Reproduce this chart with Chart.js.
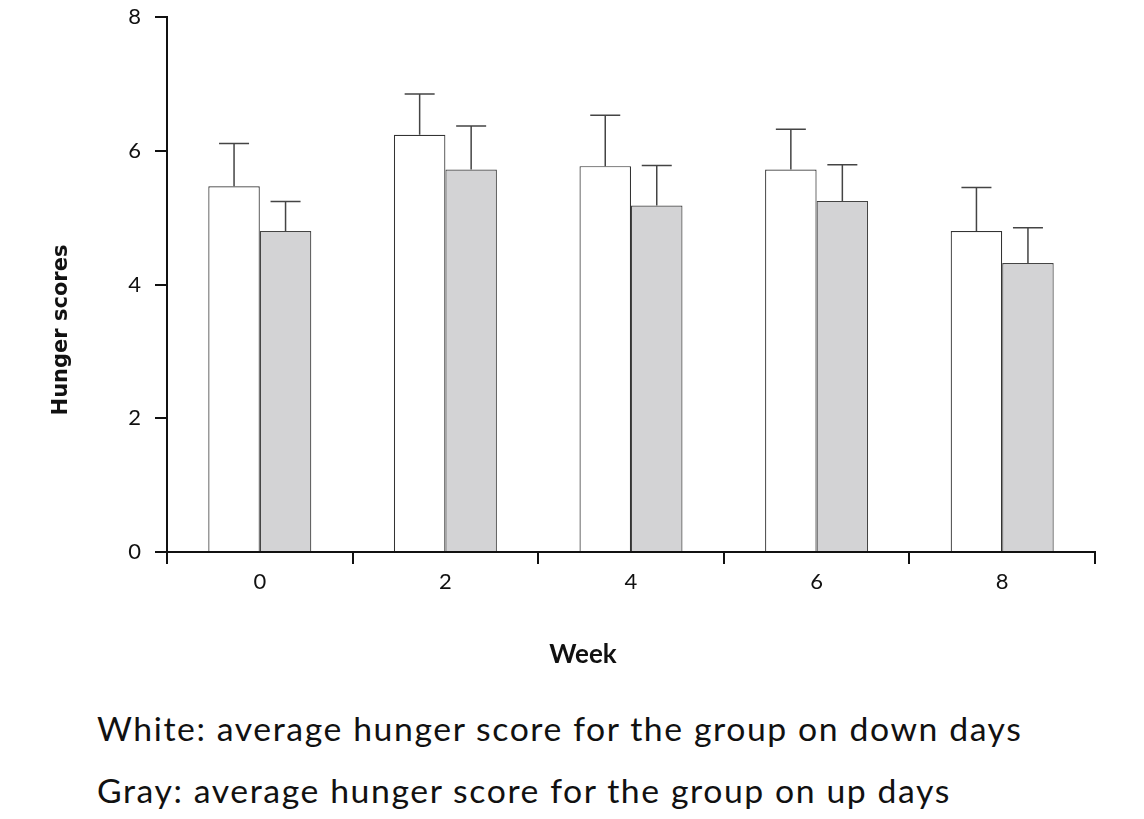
<!DOCTYPE html>
<html>
<head>
<meta charset="utf-8">
<script src="https://cdn.jsdelivr.net/npm/chart.js@4/dist/chart.umd.min.js"></script>
<style>
  body { margin: 0; background: #fff; width: 1144px; height: 819px; position: relative; overflow: hidden; }
  #wrap { position: absolute; left: 0; top: 0; width: 1144px; height: 690px; }
  .caption { position: absolute; left: 97px; font-family: Lato, sans-serif; font-size: 32px; color: #111; letter-spacing: 1.5px; white-space: nowrap; transform: scaleX(1.055); transform-origin: left top; }
</style>
</head>
<body>
<div id="wrap"><canvas id="hungerChart"></canvas></div>
<div class="caption" style="top: 709px;">White: average hunger score for the group on down days</div>
<div class="caption" style="top: 771px;">Gray: average hunger score for the group on up days</div>
<script>
// Weeks and mean hunger scores
const weeks = ['0', '2', '4', '6', '8'];
const downDays = [5.47, 6.24, 5.77, 5.72, 4.80];
const downDaysSD = [0.64, 0.61, 0.76, 0.60, 0.65];
const upDays = [4.80, 5.72, 5.18, 5.25, 4.32];
const upDaysSD = [0.44, 0.65, 0.60, 0.54, 0.53];
const yTicks = [0, 2, 4, 6, 8];

// upward error bars with a cap, drawn from the y scale
const errorBars = {
    id: 'errorBars',
    afterDatasetsDraw(chart) {
        const ctx = chart.ctx;
        const yScale = chart.scales.y;
        chart.data.datasets.forEach((ds, i) => {
            const meta = chart.getDatasetMeta(i);
            meta.data.forEach((bar, j) => {
                const yTop = yScale.getPixelForValue(ds.data[j] + ds.sd[j]);
                ctx.save();
                ctx.strokeStyle = '#444';
                ctx.lineWidth = 1.5;
                ctx.beginPath();
                ctx.moveTo(bar.x, bar.y);
                ctx.lineTo(bar.x, yTop);
                ctx.moveTo(bar.x - 15, yTop);
                ctx.lineTo(bar.x + 15, yTop);
                ctx.stroke();
                ctx.restore();
            });
        });
    }
};

// axis titles sit off-centre in the original, so they are drawn here
const axisTitles = {
    id: 'axisTitles',
    afterDraw(chart) {
        const ctx = chart.ctx;
        ctx.save();
        ctx.fillStyle = '#111';
        ctx.textAlign = 'center';
        ctx.textBaseline = 'middle';
        ctx.font = 'bold 26px Lato';
        ctx.fillText('Week', 583, 655);
        ctx.translate(62, 330);
        ctx.rotate(-Math.PI / 2);
        ctx.font = 'bold 21px "DejaVu Sans"';
        ctx.fillText('Hunger scores', 0, 0);
        ctx.restore();
    }
};

const ctx = document.getElementById('hungerChart').getContext('2d');
const hungerChart = new Chart(ctx, {
    type: 'bar',
    data: {
        labels: weeks,
        datasets: [{
            label: 'Down days',
            data: downDays,
            sd: downDaysSD,
            backgroundColor: '#ffffff',
            borderColor: '#333',
            borderWidth: 1.2,
            borderSkipped: 'bottom'
        }, {
            label: 'Up days',
            data: upDays,
            sd: upDaysSD,
            backgroundColor: '#d3d3d5',
            borderColor: '#444',
            borderWidth: 1.2,
            borderSkipped: 'bottom'
        }]
    },
    options: {
        responsive: true,
        maintainAspectRatio: false,
        animation: false,
        categoryPercentage: 0.555,
        barPercentage: 1,
        layout: { padding: { top: 17, right: 49, left: 0, bottom: 0 } },
        plugins: { legend: { display: false }, tooltip: { enabled: false } },
        scales: {
            x: {
                grid: { offset: true, drawOnChartArea: false, tickLength: 12, color: '#111', lineWidth: 2 },
                border: { color: '#111', width: 2 },
                ticks: { color: '#111', font: { family: 'Lato', size: 22 }, padding: 5 },
                afterFit: function(scale) { scale.height = 138; }
            },
            y: {
                min: 0,
                max: 8,
                afterBuildTicks: function(scale) { scale.ticks = yTicks.map(v => ({ value: v })); },
                grid: { drawOnChartArea: false, tickLength: 12, color: '#111', lineWidth: 2 },
                border: { color: '#111', width: 2 },
                ticks: { color: '#111', font: { family: 'Lato', size: 22 }, padding: 14 },
                afterFit: function(scale) {
                    scale.width = 167;
                    scale.paddingTop = 0;
                    scale.paddingBottom = 0;
                }
            }
        }
    },
    plugins: [errorBars, axisTitles]
});
</script>
</body>
</html>
